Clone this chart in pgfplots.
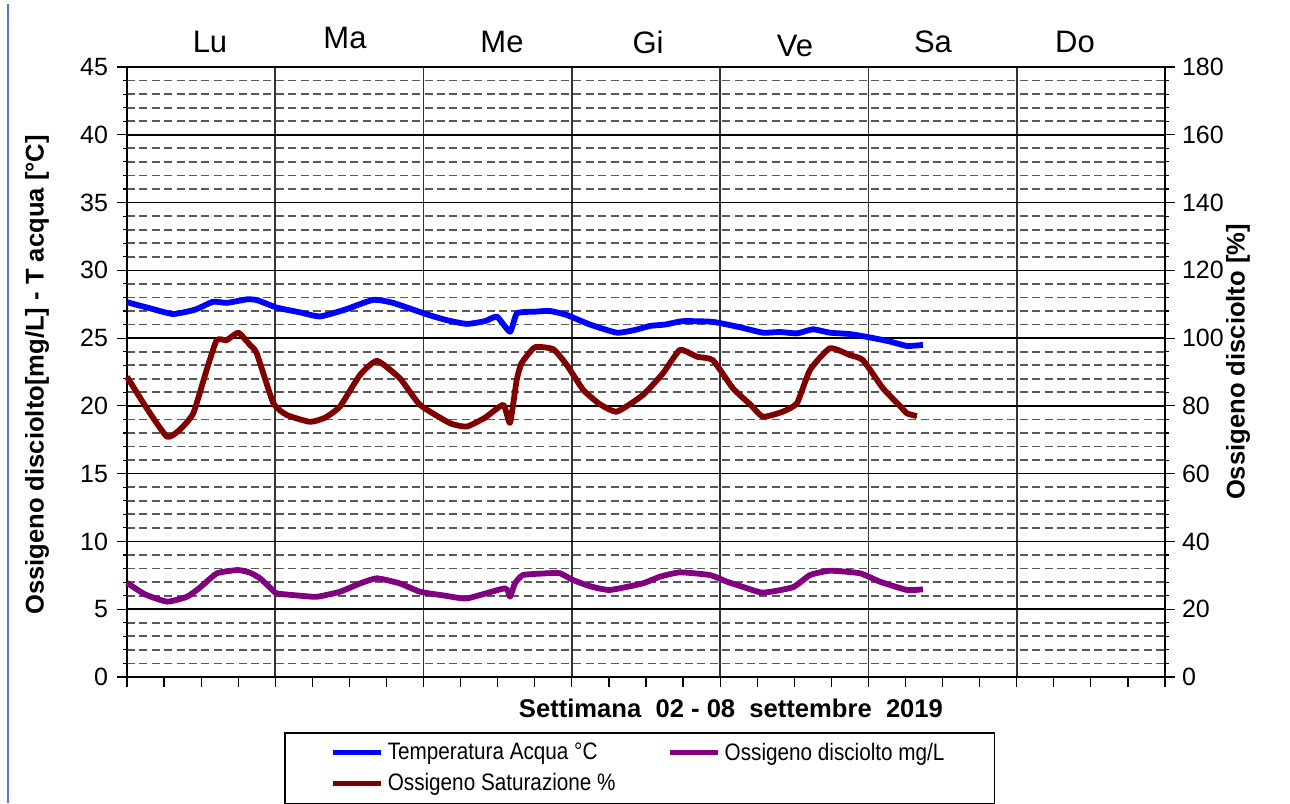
\documentclass[border=0pt]{standalone}
\usepackage{fontspec}
\setmainfont{Liberation Sans}
\newfontfamily\narrowfont[FakeStretch=0.87]{Liberation Sans}
\usepackage{pgfplots}
\usepackage{pgfplotstable}
\pgfplotsset{compat=1.18}
\definecolor{tblue}{RGB}{0,0,255}
\definecolor{sred}{RGB}{128,0,0}
\definecolor{dpurp}{RGB}{128,0,128}
\definecolor{edgeblue}{RGB}{80,120,200}

\pgfplotstableread{
d v
0 27.65
0.155 27.2
0.310 26.78
0.459 27.1
0.580 27.68
0.674 27.6
0.809 27.86
0.877 27.8
1.011 27.25
1.166 26.9
1.301 26.6
1.470 27.1
1.659 27.82
1.794 27.6
2.023 26.75
2.165 26.3
2.293 26.05
2.414 26.25
2.495 26.58
2.583 25.47
2.630 26.83
2.751 26.95
2.852 27.0
2.967 26.7
3.122 26.0
3.304 25.4
3.425 25.6
3.527 25.9
3.628 26.0
3.749 26.25
3.951 26.2
4.134 25.8
4.289 25.4
4.403 25.45
4.518 25.35
4.626 25.65
4.740 25.4
4.875 25.3
5.010 25.05
5.145 24.75
5.260 24.42
5.368 24.5
}\temp

\pgfplotstableread{
d v
0 6.95
0.121 6.1
0.270 5.56
0.405 5.92
0.492 6.6
0.607 7.65
0.748 7.89
0.829 7.7
0.897 7.28
0.964 6.6
1.011 6.17
1.166 6.0
1.281 5.92
1.436 6.29
1.571 6.9
1.686 7.28
1.841 6.9
1.976 6.29
2.145 6.0
2.293 5.8
2.549 6.54
2.583 5.92
2.616 6.9
2.670 7.52
2.832 7.65
2.920 7.65
3.007 7.16
3.122 6.7
3.256 6.42
3.479 6.91
3.594 7.4
3.729 7.72
3.931 7.52
4.046 7.03
4.167 6.6
4.289 6.22
4.490 6.62
4.606 7.52
4.740 7.84
4.943 7.65
5.078 7.03
5.260 6.42
5.368 6.47
}\dox

\pgfplotstableread{
d v
0 88.6
0.133 79.3
0.270 70.9
0.357 73
0.447 77.8
0.537 90.6
0.605 99.4
0.672 99.4
0.751 101.6
0.829 98
0.875 95.5
0.987 80.8
1.079 77.3
1.234 75.3
1.335 76.5
1.436 79.8
1.571 89.1
1.686 93.3
1.841 88.1
1.976 80.3
2.178 74.9
2.291 73.9
2.414 76.5
2.537 80.3
2.583 75.0
2.628 87.6
2.661 92.6
2.751 97.3
2.875 96.7
2.967 92
3.077 84.7
3.189 80.5
3.304 78.3
3.479 83.2
3.614 89.6
3.729 96.5
3.844 94.5
3.951 93.5
4.086 85.2
4.201 80.5
4.289 76.8
4.423 78.3
4.518 80.8
4.606 90.6
4.740 97
4.875 95
4.963 93.5
5.098 85.2
5.212 80
5.260 77.8
5.327 77.0
}\sat

\begin{document}
\begin{tikzpicture}
\path[use as bounding box] (-63.5pt,-63pt) rectangle (581.5pt,338.5pt);
\fill[white] (-63.5pt,-63pt) rectangle (581.5pt,338.5pt);
\draw[edgeblue, line width=0.7pt] (-59.5pt,-63pt) -- (-59.5pt,336.5pt);

\begin{axis}[
  at={(0,0)}, anchor=south west, scale only axis,
  width=519pt, height=305pt,
  xmin=0, xmax=7, ymin=0, ymax=45,
  xtick={0,1,2,3,4,5,6,7}, xticklabels={},
  extra x ticks={0.25,0.5,0.75,1.25,1.5,1.75,2.25,2.5,2.75,3.25,3.5,3.75,4.25,4.5,4.75,5.25,5.5,5.75,6.25,6.5,6.75},
  extra x tick labels={},
  extra x tick style={grid=none},
  ytick={0,5,...,45}, minor y tick num=4,
  xtick pos=bottom, ytick pos=left,
  xmajorgrids, ymajorgrids, yminorgrids,
  major x grid style={black!80, line width=0.8pt},
  major y grid style={black, line width=0.8pt},
  minor y grid style={black!65, line width=0.9pt, dash pattern=on 4pt off 2.2pt},
  axis line style={black, line width=0.8pt},
  tick style={black, line width=0.6pt},
  tick align=outside, major tick length=5pt, minor tick length=2pt,
  /pgf/number format/assume math mode=true,
  tick label style={font=\fontsize{12.5}{14}\selectfont},
  yticklabel style={xshift=-1pt},
  clip=false,
]
\addplot[tblue, line width=2.9pt, line join=round, smooth, tension=0.3] table[x=d,y=v] {\temp};
\addplot[dpurp, line width=2.9pt, line join=round, smooth, tension=0.3] table[x=d,y=v] {\dox};
\end{axis}

\begin{axis}[
  at={(0,0)}, anchor=south west, scale only axis,
  width=519pt, height=305pt,
  xmin=0, xmax=7, ymin=0, ymax=180,
  axis x line=none, axis y line*=right,
  ytick={0,20,...,180}, minor y tick num=4,
  axis line style={black, line width=0.8pt},
  tick style={black, line width=0.6pt},
  tick align=outside, major tick length=5pt, minor tick length=2pt,
  /pgf/number format/assume math mode=true,
  tick label style={font=\fontsize{12.5}{14}\selectfont},
  clip=false,
  legend columns=2,
  legend cell align=left,
  legend image code/.code={\draw[#1, line width=2.5pt] (0pt,0pt) -- (24pt,0pt);},
  legend style={at={(axis description cs:0.1513,-0.0902)}, anchor=north west,
    draw=black, line width=0.75pt, inner xsep=23pt, inner ysep=3pt,
    font=\narrowfont\fontsize{11.9}{13}\selectfont, row sep=1pt,
    /tikz/column 2/.style={column sep=24pt}},
]
\addlegendimage{tblue, line width=2.5pt}
\addlegendentry{Temperatura Acqua °C}
\addlegendimage{dpurp, line width=2.5pt}
\addlegendentry{Ossigeno disciolto mg/L}
\addplot[sred, line width=2.9pt, line join=round, smooth, tension=0.3] table[x=d,y=v] {\sat};
\addlegendentry{Ossigeno Saturazione \%}
\end{axis}

\node[rotate=90, font=\bfseries\fontsize{12.8}{15}\selectfont] at (-45pt,151pt) {Ossigeno disciolto[mg/L] - T acqua [°C]};
\node[rotate=90, font=\bfseries\fontsize{12.8}{15}\selectfont] at (555.5pt,157.5pt) {Ossigeno disciolto [\%]};
\node[font=\bfseries\fontsize{12.8}{15}\selectfont] at (302pt,-15.5pt) {Settimana\ \ 02 - 08\ \ settembre\ \ 2019};

\begin{scope}[every node/.style={font=\fontsize{15.5}{18}\selectfont}]
\node at (41.5pt,317.5pt) {Lu};
\node at (109pt,319.5pt) {Ma};
\node at (187.5pt,317.5pt) {Me};
\node at (260.5pt,317.5pt) {Gi};
\node at (334pt,315.5pt) {Ve};
\node at (403pt,317.5pt) {Sa};
\node at (474pt,317.5pt) {Do};
\end{scope}
\end{tikzpicture}
\end{document}
